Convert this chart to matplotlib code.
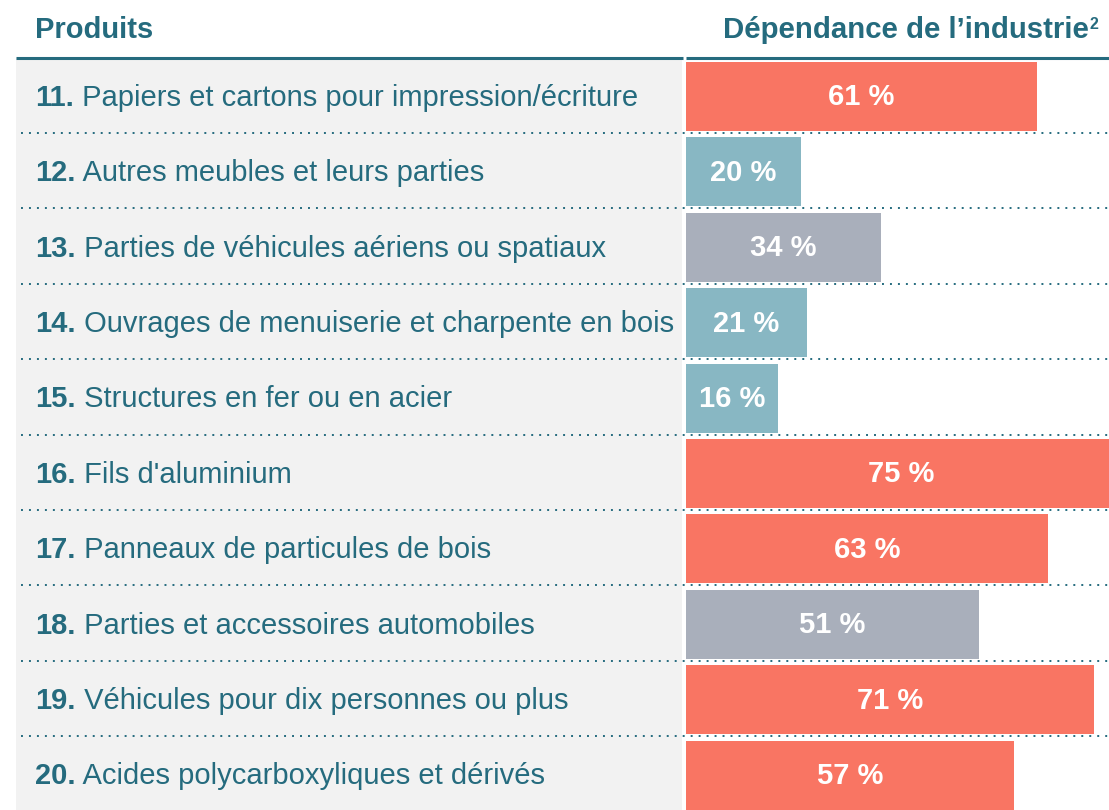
import matplotlib.pyplot as plt
from matplotlib.patches import Rectangle
from matplotlib.transforms import blended_transform_factory

plt.rcParams['font.family'] = ['Liberation Sans', 'DejaVu Sans']

# data
numbers = ["11.", "12.", "13.", "14.", "15.", "16.", "17.", "18.", "19.", "20."]
products = ["Papiers et cartons pour impression/écriture",
            "Autres meubles et leurs parties",
            "Parties de véhicules aériens ou spatiaux",
            "Ouvrages de menuiserie et charpente en bois",
            "Structures en fer ou en acier",
            "Fils d'aluminium",
            "Panneaux de particules de bois",
            "Parties et accessoires automobiles",
            "Véhicules pour dix personnes ou plus",
            "Acides polycarboxyliques et dérivés"]
dependance = [61, 20, 34, 21, 16, 75, 63, 51, 71, 57]
groups = ["high", "low", "mid", "low", "low", "high", "high", "mid", "high", "high"]

group_colors = {"high": "#F97563", "low": "#88B7C3", "mid": "#A9AFBB"}
teal = "#256B7E"

W, H = 1109, 810
fig = plt.figure(figsize=(W/100, H/100), dpi=100)

def fx(px):
    return px/W

def fy(py):
    return 1 - py/H

# grey panel behind product names
fig.add_artist(Rectangle((fx(16), 0), fx(682) - fx(16), fy(58), transform=fig.transFigure,
                         facecolor="#F2F2F2", edgecolor="none", zorder=0))

top, bottom = 57.6, 811.6
ax = fig.add_axes([fx(686), fy(bottom), fx(1109) - fx(686), fy(top) - fy(bottom)])
ax.set_xlim(0, 73.6)
n = len(dependance)
ax.set_ylim(n - 0.5, -0.5)
ax.axis("off")
ax.patch.set_alpha(0)

ypos = [i + 0.015 for i in range(n)]
ax.barh(ypos, dependance, height=0.915, color=[group_colors[g] for g in groups], zorder=2)

# value labels (baseline a bit below the row centre)
for i, v in enumerate(dependance):
    ax.text(v/2, i + 0.135, f"{v} %", ha="center", va="baseline", color="white",
            fontsize=21, fontweight="bold", zorder=3, clip_on=False)

trans = blended_transform_factory(fig.transFigure, ax.transData)

# dotted row separators
for i in range(n - 1):
    ax.plot([fx(21), 1], [i + 0.5, i + 0.5], transform=trans, clip_on=False,
            color=teal, linestyle=(0, (1, 3.1)), linewidth=1.4,
            dash_capstyle="butt", zorder=4)

# header rule
for x0, x1 in [(16, 683), (686, 1109)]:
    ax.plot([fx(x0), fx(x1)], [-0.5, -0.5], transform=trans, clip_on=False,
            color=teal, linewidth=2.2, solid_capstyle="butt", zorder=4)

# product labels
for i, (num, name) in enumerate(zip(numbers, products)):
    t = ax.text(fx(35), i + 0.14, num, transform=trans, ha="left", va="baseline",
                color=teal, fontsize=21, fontweight="bold")
    ax.annotate(" " + name, xy=(1, 0), xycoords=t, ha="left", va="bottom",
                color=teal, fontsize=21)

# headers
fig.text(fx(35), fy(38), "Produits", ha="left", va="baseline", color=teal,
         fontsize=21, fontweight="bold")
fig.text(fx(1089), fy(38), "Dépendance de l’industrie", ha="right", va="baseline",
         color=teal, fontsize=21.2, fontweight="bold")
fig.text(fx(1090), fy(29), "2", ha="left", va="baseline",
         color=teal, fontsize=11.5, fontweight="bold")

fig.savefig("out.png", dpi=100)
